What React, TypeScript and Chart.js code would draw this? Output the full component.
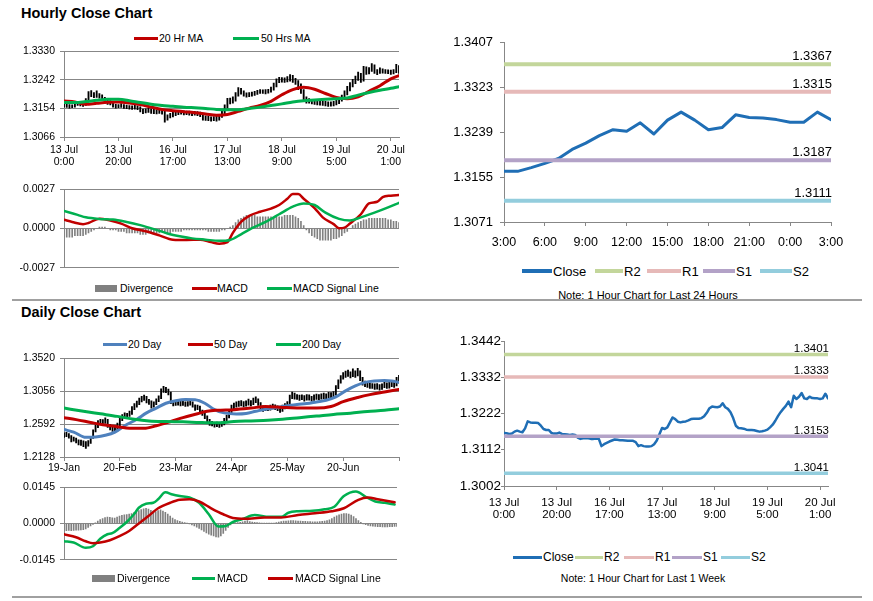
import React, { useEffect, useRef } from 'react';
import { Chart, registerables } from 'chart.js';
Chart.register(...registerables);

// ---------------- Hourly (last week) ----------------
const weekTickLabels = [['13 Jul', '0:00'], ['13 Jul', '20:00'], ['16 Jul', '17:00'], ['17 Jul', '13:00'], ['18 Jul', '9:00'], ['19 Jul', '5:00'], ['20 Jul', '1:00']];
const hourClose = [
  1.3163, 1.3162, 1.3160, 1.3161, 1.3167, 1.3170, 1.3167, 1.3165, 1.3177, 1.3198,
  1.3195, 1.3194, 1.3194, 1.3193, 1.3185, 1.3175, 1.3172, 1.3172, 1.3163, 1.3161,
  1.3161, 1.3164, 1.3160, 1.3159, 1.3158, 1.3157, 1.3158, 1.3157, 1.3149, 1.3145,
  1.3147, 1.3148, 1.3147, 1.3145, 1.3145, 1.3146, 1.3145, 1.3123, 1.3129, 1.3133,
  1.3137, 1.3140, 1.3143, 1.3142, 1.3141, 1.3141, 1.3140, 1.3139, 1.3139, 1.3139,
  1.3135, 1.3123, 1.3126, 1.3123, 1.3122, 1.3122, 1.3123, 1.3129, 1.3140, 1.3159,
  1.3178, 1.3175, 1.3180, 1.3195, 1.3210, 1.3205, 1.3197, 1.3195, 1.3197, 1.3198,
  1.3201, 1.3205, 1.3206, 1.3206, 1.3206, 1.3208, 1.3214, 1.3224, 1.3238, 1.3243,
  1.3242, 1.3241, 1.3243, 1.3253, 1.3241, 1.3236, 1.3226, 1.3208, 1.3185, 1.3178,
  1.3177, 1.3176, 1.3173, 1.3172, 1.3172, 1.3171, 1.3169, 1.3167, 1.3168, 1.3170,
  1.3173, 1.3180, 1.3188, 1.3200, 1.3214, 1.3226, 1.3236, 1.3245, 1.3258, 1.3241,
  1.3276, 1.3266, 1.3273, 1.3284, 1.3268, 1.3266, 1.3273, 1.3269, 1.3268, 1.3268,
  1.3266, 1.3268, 1.3282, 1.3268,
];
const hourHigh = [
  1.3170, 1.3167, 1.3166, 1.3165, 1.3171, 1.3176, 1.3174, 1.3170, 1.3184, 1.3206,
  1.3209, 1.3203, 1.3208, 1.3200, 1.3196, 1.3188, 1.3180, 1.3178, 1.3174, 1.3167,
  1.3166, 1.3169, 1.3166, 1.3164, 1.3163, 1.3162, 1.3164, 1.3162, 1.3159, 1.3152,
  1.3153, 1.3154, 1.3153, 1.3151, 1.3150, 1.3152, 1.3151, 1.3148, 1.3134, 1.3139,
  1.3142, 1.3146, 1.3148, 1.3148, 1.3147, 1.3146, 1.3146, 1.3144, 1.3145, 1.3144,
  1.3143, 1.3138, 1.3131, 1.3130, 1.3128, 1.3129, 1.3130, 1.3135, 1.3146, 1.3165,
  1.3185, 1.3186, 1.3190, 1.3203, 1.3218, 1.3216, 1.3208, 1.3202, 1.3203, 1.3204,
  1.3207, 1.3210, 1.3212, 1.3211, 1.3212, 1.3213, 1.3220, 1.3232, 1.3245, 1.3250,
  1.3249, 1.3248, 1.3252, 1.3258, 1.3256, 1.3247, 1.3240, 1.3230, 1.3212, 1.3190,
  1.3184, 1.3182, 1.3180, 1.3178, 1.3178, 1.3177, 1.3176, 1.3174, 1.3174, 1.3176,
  1.3179, 1.3186, 1.3195, 1.3208, 1.3222, 1.3234, 1.3244, 1.3254, 1.3266, 1.3262,
  1.3284, 1.3282, 1.3280, 1.3292, 1.3288, 1.3274, 1.3279, 1.3276, 1.3274, 1.3273,
  1.3272, 1.3274, 1.3290, 1.3286,
];
const hourLow = [
  1.3158, 1.3157, 1.3155, 1.3156, 1.3158, 1.3163, 1.3162, 1.3160, 1.3163, 1.3175,
  1.3190, 1.3187, 1.3188, 1.3186, 1.3180, 1.3170, 1.3166, 1.3165, 1.3158, 1.3155,
  1.3156, 1.3157, 1.3154, 1.3153, 1.3152, 1.3151, 1.3152, 1.3150, 1.3143, 1.3138,
  1.3140, 1.3142, 1.3139, 1.3138, 1.3137, 1.3139, 1.3136, 1.3112, 1.3118, 1.3125,
  1.3128, 1.3132, 1.3135, 1.3136, 1.3134, 1.3135, 1.3133, 1.3132, 1.3133, 1.3132,
  1.3129, 1.3118, 1.3117, 1.3116, 1.3115, 1.3116, 1.3115, 1.3118, 1.3126, 1.3137,
  1.3155, 1.3168, 1.3170, 1.3176, 1.3192, 1.3198, 1.3192, 1.3189, 1.3190, 1.3192,
  1.3194, 1.3197, 1.3200, 1.3200, 1.3199, 1.3201, 1.3204, 1.3210, 1.3220, 1.3233,
  1.3235, 1.3234, 1.3236, 1.3238, 1.3234, 1.3228, 1.3212, 1.3200, 1.3178, 1.3170,
  1.3170, 1.3168, 1.3166, 1.3165, 1.3164, 1.3163, 1.3162, 1.3160, 1.3161, 1.3162,
  1.3165, 1.3169, 1.3176, 1.3184, 1.3196, 1.3208, 1.3220, 1.3230, 1.3240, 1.3234,
  1.3238, 1.3259, 1.3260, 1.3268, 1.3262, 1.3258, 1.3262, 1.3263, 1.3262, 1.3261,
  1.3259, 1.3260, 1.3264, 1.3262,
];
const hourMaIdx = [0, 4, 8, 12, 16, 20, 24, 28, 32, 36, 40, 44, 48, 52, 56, 60, 64, 68, 72, 76, 80, 84, 88, 92, 96, 100, 104, 108, 112, 116, 120, 123];
const hourMa20 = [1.3177, 1.3174, 1.3167, 1.3170, 1.3173, 1.3174, 1.3171, 1.3166, 1.3158, 1.3151, 1.3147, 1.3144, 1.3141, 1.3137, 1.3133, 1.3135, 1.3145, 1.3155, 1.3163, 1.3176, 1.3196, 1.3212, 1.3219, 1.3213, 1.3200, 1.3188, 1.3184, 1.3190, 1.3207, 1.3224, 1.3245, 1.3255];
const hourMa50 = [1.3172, 1.3172, 1.3175, 1.3179, 1.3182, 1.3182, 1.3178, 1.3172, 1.3167, 1.3163, 1.3161, 1.3158, 1.3156, 1.3154, 1.3151, 1.3150, 1.3150, 1.3154, 1.3158, 1.3163, 1.3168, 1.3174, 1.3178, 1.3180, 1.3182, 1.3184, 1.3186, 1.3195, 1.3203, 1.3210, 1.3216, 1.3221];
const hourMacdIdx = [0, 3, 7, 9, 13, 17, 21, 25, 30, 35, 40, 45, 50, 54, 57, 60, 62, 65, 68, 72, 76, 79, 82, 84, 86, 88, 92, 95, 99, 101, 103, 105, 109, 112, 115, 117, 120, 123];
const hourMacd = [0.0006, 0.00045, 0.0003, 0.00038, 0.00068, 0.00055, 0.00034, 0.00002, -0.00019, -0.00047, -0.00077, -0.00079, -0.00077, -0.00094, -0.00105, -0.00094, -0.0003, 0.00045, 0.00087, 0.00115, 0.00137, 0.00162, 0.00205, 0.00237, 0.00237, 0.00205, 0.00141, 0.00077, 0.0003, 0.00002, 0.00006, 0.00034, 0.00098, 0.00173, 0.00184, 0.00216, 0.00226, 0.0023];
const hourSignalIdx = [0, 5, 8, 13, 18, 23, 28, 33, 38, 43, 47, 52, 57, 61, 65, 69, 74, 79, 84, 88, 92, 96, 101, 105, 109, 114, 119, 123];
const hourSignal = [0.0012, 0.00094, 0.00077, 0.00066, 0.00062, 0.00045, 0.00023, -0.00004, -0.00034, -0.00055, -0.00068, -0.00077, -0.00085, -0.00079, -0.0004, 0.00002, 0.00045, 0.00098, 0.00151, 0.00173, 0.00162, 0.00109, 0.00066, 0.00055, 0.00077, 0.00109, 0.00145, 0.00177];
const hourDivergence = [
  -0.0006, -0.0006, -0.0006, -0.0006, -0.0005, -0.0005, -0.0005, -0.0005, -0.0004, -0.0003,
  -0.0002, -0.0001, 0.0000, 0.0001, 0.0001, 0.0001, 0.0000, -0.0001, -0.0001, -0.0001,
  -0.0002, -0.0002, -0.0002, -0.0003, -0.0003, -0.0003, -0.0003, -0.0003, -0.0004, -0.0004,
  -0.0004, -0.0003, -0.0003, -0.0003, -0.0003, -0.0003, -0.0002, -0.0003, -0.0003, -0.0003,
  -0.0002, -0.0002, -0.0002, -0.0002, -0.0001, -0.0001, -0.0001, -0.0001, -0.0001, -0.0001,
  -0.0001, -0.0001, -0.0001, -0.0002, -0.0002, -0.0002, -0.0002, -0.0002, -0.0001, -0.0001,
  0.0000, 0.0001, 0.0002, 0.0004, 0.0006, 0.0007, 0.0008, 0.0009, 0.0009, 0.0009,
  0.0009, 0.0008, 0.0008, 0.0008, 0.0008, 0.0008, 0.0008, 0.0007, 0.0008, 0.0008,
  0.0008, 0.0009, 0.0009, 0.0009, 0.0009, 0.0008, 0.0007, 0.0005, 0.0002, -0.0001,
  -0.0003, -0.0005, -0.0006, -0.0007, -0.0008, -0.0008, -0.0008, -0.0008, -0.0008, -0.0007,
  -0.0007, -0.0006, -0.0005, -0.0003, -0.0002, 0.0000, 0.0002, 0.0003, 0.0004, 0.0005,
  0.0006, 0.0006, 0.0007, 0.0007, 0.0007, 0.0007, 0.0007, 0.0007, 0.0007, 0.0006,
  0.0006, 0.0005, 0.0005, 0.0004,
];
const hourPriceTicks = [1.3066, 1.3154, 1.3242, 1.3330];
const hourMacdTicks = [-0.0027, 0, 0.0027];

// ---------------- Last 24 hours ----------------
const dayHourLabels = ['3:00', '6:00', '9:00', '12:00', '15:00', '18:00', '21:00', '0:00', '3:00'];
const close24 = [1.3166, 1.3166, 1.3173, 1.3181, 1.3190, 1.3207, 1.3219, 1.3233, 1.3244, 1.3241, 1.3257, 1.3236, 1.3262, 1.3277, 1.3262, 1.3244, 1.3248, 1.3272, 1.3267, 1.3266, 1.3263, 1.3258, 1.3258, 1.3277, 1.3263];
const levelNames = ['R2', 'R1', 'S1', 'S2'];
const levels24 = [1.3367, 1.3315, 1.3187, 1.3111];
const levelsWeek = [1.3401, 1.3333, 1.3153, 1.3041];
const ticks24 = [1.3071, 1.3155, 1.3239, 1.3323, 1.3407];
const ticksWeek = [1.3002, 1.3112, 1.3222, 1.3332, 1.3442];

// ---------------- Daily ----------------
const dailyTickLabels = ['19-Jan', '20-Feb', '23-Mar', '24-Apr', '25-May', '20-Jun', ''];
const dailyHigh = [
  1.2470, 1.2475, 1.2460, 1.2430, 1.2410, 1.2395, 1.2370, 1.2365, 1.2355, 1.2345,
  1.2360, 1.2420, 1.2510, 1.2580, 1.2640, 1.2660, 1.2655, 1.2680, 1.2660, 1.2590,
  1.2560, 1.2545, 1.2605, 1.2675, 1.2725, 1.2750, 1.2745, 1.2775, 1.2840, 1.2880,
  1.2915, 1.2960, 1.2985, 1.3000, 1.2985, 1.2940, 1.2920, 1.2905, 1.2950, 1.2990,
  1.3090, 1.3125, 1.3110, 1.3085, 1.3045, 1.2925, 1.2925, 1.2920, 1.2915, 1.2925,
  1.2905, 1.2910, 1.2925, 1.2905, 1.2865, 1.2860, 1.2845, 1.2790, 1.2750, 1.2710,
  1.2660, 1.2630, 1.2615, 1.2620, 1.2610, 1.2625, 1.2675, 1.2720, 1.2790, 1.2860,
  1.2890, 1.2905, 1.2915, 1.2925, 1.2910, 1.2920, 1.2945, 1.2925, 1.2960, 1.2975,
  1.2950, 1.2895, 1.2850, 1.2850, 1.2845, 1.2860, 1.2875, 1.2865, 1.2850, 1.2830,
  1.2860, 1.2880, 1.2910, 1.3000, 1.3045, 1.3030, 1.3010, 1.3000, 1.3005, 1.2995,
  1.3010, 1.3005, 1.2985, 1.3005, 1.3015, 1.3010, 1.3020, 1.3030, 1.3020, 1.3040,
  1.3035, 1.3050, 1.3135, 1.3215, 1.3275, 1.3320, 1.3340, 1.3355, 1.3330, 1.3370,
  1.3345, 1.3380, 1.3345, 1.3250, 1.3200, 1.3185, 1.3170, 1.3165, 1.3160, 1.3165,
  1.3150, 1.3160, 1.3185, 1.3175, 1.3185, 1.3200, 1.3190, 1.3250, 1.3280,
];
const dailyLow = [
  1.2405, 1.2415, 1.2395, 1.2340, 1.2350, 1.2325, 1.2300, 1.2290, 1.2275, 1.2250,
  1.2280, 1.2320, 1.2390, 1.2480, 1.2540, 1.2580, 1.2575, 1.2600, 1.2545, 1.2510,
  1.2490, 1.2480, 1.2495, 1.2570, 1.2640, 1.2680, 1.2685, 1.2700, 1.2730, 1.2795,
  1.2830, 1.2865, 1.2905, 1.2925, 1.2890, 1.2870, 1.2815, 1.2830, 1.2865, 1.2910,
  1.2950, 1.3040, 1.3035, 1.3005, 1.2880, 1.2850, 1.2855, 1.2860, 1.2850, 1.2855,
  1.2840, 1.2845, 1.2860, 1.2830, 1.2785, 1.2795, 1.2755, 1.2715, 1.2670, 1.2620,
  1.2575, 1.2565, 1.2550, 1.2555, 1.2545, 1.2560, 1.2580, 1.2630, 1.2680, 1.2745,
  1.2810, 1.2830, 1.2840, 1.2850, 1.2835, 1.2845, 1.2860, 1.2850, 1.2865, 1.2895,
  1.2855, 1.2805, 1.2770, 1.2780, 1.2780, 1.2790, 1.2805, 1.2795, 1.2780, 1.2755,
  1.2770, 1.2805, 1.2825, 1.2865, 1.2950, 1.2945, 1.2940, 1.2925, 1.2935, 1.2915,
  1.2930, 1.2930, 1.2915, 1.2925, 1.2940, 1.2935, 1.2945, 1.2950, 1.2945, 1.2960,
  1.2960, 1.2970, 1.3000, 1.3090, 1.3170, 1.3225, 1.3250, 1.3265, 1.3245, 1.3260,
  1.3250, 1.3270, 1.3205, 1.3140, 1.3120, 1.3110, 1.3095, 1.3095, 1.3080, 1.3085,
  1.3070, 1.3080, 1.3105, 1.3095, 1.3100, 1.3120, 1.3110, 1.3130, 1.3190,
];
const daily20Idx = [0, 4, 9, 13, 17, 21, 25, 30, 34, 38, 42, 46, 50, 54, 58, 62, 66, 71, 75, 79, 84, 88, 92, 96, 100, 104, 108, 112, 116, 120, 124, 128, 132, 135, 138];
const daily20 = [1.2515, 1.2479, 1.2405, 1.2411, 1.2434, 1.2479, 1.2569, 1.2660, 1.2750, 1.2818, 1.2886, 1.2922, 1.2940, 1.2935, 1.2886, 1.2796, 1.2750, 1.2735, 1.2742, 1.2773, 1.2809, 1.2827, 1.2850, 1.2870, 1.2882, 1.2905, 1.2928, 1.2975, 1.3060, 1.3130, 1.3180, 1.3200, 1.3206, 1.3200, 1.3180];
const daily50Idx = [0, 5, 11, 16, 22, 27, 33, 38, 44, 49, 55, 59, 63, 70, 77, 83, 90, 97, 104, 110, 115, 121, 126, 132, 138];
const daily50 = [1.2683, 1.2655, 1.2615, 1.2583, 1.2556, 1.2533, 1.2533, 1.2569, 1.2628, 1.2683, 1.2737, 1.2773, 1.2787, 1.2796, 1.2818, 1.2841, 1.2827, 1.2818, 1.2818, 1.2841, 1.2909, 1.2968, 1.3008, 1.3045, 1.3081];
const daily200Idx = [0, 8, 15, 22, 29, 35, 42, 49, 56, 63, 70, 77, 84, 90, 97, 104, 111, 118, 125, 132, 138];
const daily200 = [1.2818, 1.2773, 1.2737, 1.2701, 1.2660, 1.2637, 1.2628, 1.2624, 1.2615, 1.2610, 1.2628, 1.2637, 1.2646, 1.2660, 1.2683, 1.2705, 1.2728, 1.2746, 1.2769, 1.2787, 1.2809];
const dailyMacdIdx = [0, 4, 9, 12, 15, 18, 20, 23, 26, 29, 31, 34, 37, 39, 42, 45, 48, 52, 56, 60, 64, 67, 70, 74, 79, 85, 90, 93, 97, 103, 108, 112, 116, 121, 125, 129, 133, 137];
const dailyMacd = [-0.0071, -0.0076, -0.0097, -0.0091, -0.0061, -0.0043, -0.0039, -0.0018, 0.0006, 0.0037, 0.0063, 0.0079, 0.0083, 0.0097, 0.0125, 0.0116, 0.0110, 0.0104, 0.0083, 0.0037, -0.0012, -0.0010, 0.0006, 0.0018, 0.0034, 0.0027, 0.0027, 0.0043, 0.0049, 0.0051, 0.0057, 0.0067, 0.0110, 0.0128, 0.0107, 0.0088, 0.0083, 0.0076];
const dailySignalIdx = [0, 5, 9, 12, 15, 19, 23, 27, 31, 35, 39, 44, 48, 52, 56, 61, 66, 70, 75, 83, 90, 97, 104, 111, 116, 122, 126, 130, 137];
const dailySignal = [-0.0043, -0.0055, -0.0071, -0.0079, -0.0076, -0.0067, -0.0051, -0.0030, 0.0000, 0.0030, 0.0061, 0.0083, 0.0095, 0.0097, 0.0088, 0.0061, 0.0037, 0.0022, 0.0019, 0.0024, 0.0024, 0.0034, 0.0041, 0.0049, 0.0061, 0.0095, 0.0104, 0.0097, 0.0085];
const dailyDivergence = [
  -0.0028, -0.0029, -0.0028, -0.0029, -0.0028, -0.0027, -0.0027, -0.0026, -0.0025, -0.0022,
  -0.0016, -0.0010, -0.0004, 0.0003, 0.0010, 0.0016, 0.0020, 0.0024, 0.0026, 0.0025,
  0.0023, 0.0022, 0.0026, 0.0030, 0.0033, 0.0035, 0.0036, 0.0038, 0.0040, 0.0044,
  0.0048, 0.0052, 0.0056, 0.0059, 0.0061, 0.0058, 0.0053, 0.0050, 0.0048, 0.0052,
  0.0055, 0.0050, 0.0045, 0.0038, 0.0030, 0.0022, 0.0016, 0.0012, 0.0009, 0.0006,
  0.0004, 0.0002, -0.0002, -0.0006, -0.0010, -0.0015, -0.0020, -0.0026, -0.0032, -0.0038,
  -0.0043, -0.0047, -0.0050, -0.0054, -0.0055, -0.0050, -0.0040, -0.0028, -0.0016, -0.0006,
  0.0000, 0.0003, 0.0004, 0.0005, 0.0007, 0.0010, 0.0012, 0.0008, 0.0006, 0.0005,
  0.0004, 0.0003, 0.0002, 0.0002, 0.0001, 0.0001, 0.0001, 0.0002, 0.0004, 0.0006,
  0.0008, 0.0010, 0.0010, 0.0011, 0.0012, 0.0012, 0.0011, 0.0010, 0.0010, 0.0009,
  0.0009, 0.0008, 0.0008, 0.0007, 0.0007, 0.0007, 0.0008, 0.0009, 0.0010, 0.0012,
  0.0015, 0.0020, 0.0026, 0.0031, 0.0035, 0.0038, 0.0040, 0.0040, 0.0038, 0.0034,
  0.0028, 0.0020, 0.0012, 0.0005, -0.0001, -0.0005, -0.0008, -0.0010, -0.0011, -0.0012,
  -0.0013, -0.0013, -0.0014, -0.0014, -0.0014, -0.0013, -0.0013, -0.0012, -0.0012,
];
const dailyPriceTicks = [1.2128, 1.2592, 1.3056, 1.3520];
const dailyMacdTicks = [-0.0145, 0, 0.0145];

// ---------------- styling ----------------
const COL = {
  red: '#c00000', green: '#00b050', blue20: '#4f81bd', close: '#1f6eb5',
  r2: '#c3d69b', r1: '#e6b9b8', s1: '#b3a2c7', s2: '#93cddd',
  div: '#808080', grid: '#878787', candle: '#000000', sep: '#a0a0a0',
};
const levelColors = [COL.r2, COL.r1, COL.s1, COL.s2];
const LFAM = "'Liberation Sans', Arial, sans-serif";
let narrowCache: boolean | null = null;
function isNarrow(): boolean {
  if (narrowCache !== null) return narrowCache;
  try {
    const ctx = document.createElement('canvas').getContext('2d')!;
    ctx.font = "40px 'Liberation Sans Narrow', monospace";
    const a = ctx.measureText('1.3407 Close').width;
    ctx.font = '40px monospace';
    const b = ctx.measureText('1.3407 Close').width;
    narrowCache = Math.abs(a - b) > 1;
  } catch (e) {
    narrowCache = false;
  }
  return narrowCache;
}
function rFamily() { return isNarrow() ? "'Liberation Sans Narrow', 'Arial Narrow', sans-serif" : LFAM; }
function rSize(s: number) { return isNarrow() ? Math.round(s * 1.2 * 2) / 2 : s; }
function rFont(s: number, extra: any = {}) { return { family: rFamily(), size: rSize(s), ...extra }; }
const lFont = (extra: any = {}) => ({ family: LFAM, size: 10.5, ...extra });

const pts = (xs: number[], ys: number[]) => xs.map((x, i) => ({ x, y: ys[i] }));

function yAxis(o: { ticks: number[]; width: number; font: any; tickLen: number; pad: number; grid: boolean }) {
  return {
    type: 'linear', position: 'left',
    min: o.ticks[0], max: o.ticks[o.ticks.length - 1],
    afterBuildTicks: (s: any) => { s.ticks = o.ticks.map((v) => ({ value: v })); },
    afterFit: (s: any) => { s.width = o.width; },
    grid: { display: true, drawOnChartArea: o.grid, drawTicks: true, tickLength: o.tickLen, color: COL.grid, lineWidth: 1 },
    border: { display: true, color: COL.grid, width: 1 },
    ticks: { font: o.font, color: '#000', padding: o.pad, callback: (v: any) => Number(v).toFixed(4) },
  };
}
function xAxis(o: { max: number; positions: number[]; labels: any[]; height: number; font: any; pad: number; display?: boolean }) {
  return {
    type: 'linear', min: 0, max: o.max, offset: false, display: o.display === undefined ? true : o.display,
    afterBuildTicks: (s: any) => { s.ticks = o.positions.map((v) => ({ value: v })); },
    afterFit: (s: any) => { s.height = o.height; },
    grid: { display: true, drawOnChartArea: false, drawTicks: true, tickLength: 4, color: COL.grid, offset: false },
    border: { display: true, color: COL.grid, width: 1 },
    ticks: { autoSkip: false, maxRotation: 0, minRotation: 0, font: o.font, color: '#000', padding: o.pad, callback: (_v: any, i: number) => o.labels[i] },
  };
}
function base(pad: any) {
  return {
    responsive: false, maintainAspectRatio: false, animation: false, events: [],
    layout: { padding: pad },
    plugins: { legend: { display: false }, tooltip: { enabled: false }, title: { display: false } },
  };
}
const lineDs = (label: string, data: any[], color: string, width: number, order: number, smooth = true) => ({
  type: 'line', label, data, borderColor: color, backgroundColor: color, borderWidth: width, pointRadius: 0,
  fill: false, order, cubicInterpolationMode: smooth ? 'monotone' : 'default', tension: 0,
  borderJoinStyle: 'round', borderCapStyle: 'round',
});
function levelLabelPlugin(values: number[], size: number, dy: number) {
  return {
    id: 'levelLabels',
    afterDatasetsDraw(chart: any) {
      const { ctx, chartArea, scales } = chart;
      ctx.save();
      ctx.font = `${rSize(size)}px ${rFamily()}`;
      ctx.fillStyle = '#000';
      ctx.textAlign = 'right';
      ctx.textBaseline = 'alphabetic';
      values.forEach((v) => {
        const y = scales.y.getPixelForValue(v);
        ctx.fillText(v.toFixed(4), chartArea.right + 1, y - dy);
      });
      ctx.restore();
    },
  };
}

// ---------------- chart builders ----------------
const hourTickPos = weekTickLabels.map((_, i) => i * 20);
const dailyTickPos = dailyTickLabels.map((_, i) => i * 23);
const dayTickPos = dayHourLabels.map((_, i) => i * 3);
const hourMax = hourClose.length - 1;
const dailyMax = dailyHigh.length - 1;

const makeHourPrice = () => ({
  type: 'bar',
  data: {
    datasets: [
      lineDs('50 Hrs MA', pts(hourMaIdx, hourMa50), COL.green, 3, 1),
      lineDs('20 Hr MA', pts(hourMaIdx, hourMa20), COL.red, 3, 2),
      { type: 'bar', label: 'Price', data: hourLow.map((l, i) => ({ x: i, y: [l, hourHigh[i]] })), backgroundColor: COL.candle, borderWidth: 0, barThickness: 1.2, order: 3 },
    ],
  },
  options: {
    ...base({ top: 7, right: 21, bottom: 0, left: 0 }),
    scales: {
      x: xAxis({ max: hourMax, positions: hourTickPos, labels: weekTickLabels, height: 32, font: lFont({ lineHeight: '12px' }), pad: 3 }),
      y: yAxis({ ticks: hourPriceTicks, width: 64, font: lFont(), tickLen: 4, pad: 5, grid: true }),
    },
  },
});
const makeHourMacd = () => ({
  type: 'bar',
  data: {
    datasets: [
      lineDs('MACD Signal Line', pts(hourSignalIdx, hourSignal), COL.green, 2.5, 1),
      lineDs('MACD', pts(hourMacdIdx, hourMacd), COL.red, 2.5, 2),
      { type: 'bar', label: 'Divergence', data: hourDivergence.map((v, i) => ({ x: i, y: v })), backgroundColor: COL.div, borderWidth: 0, barThickness: 1, order: 3 },
    ],
  },
  options: {
    ...base({ top: 8, right: 21, bottom: 8, left: 0 }),
    scales: {
      x: xAxis({ max: hourMax, positions: hourTickPos, labels: weekTickLabels, height: 0, font: lFont(), pad: 0, display: false }),
      y: yAxis({ ticks: hourMacdTicks, width: 64, font: lFont(), tickLen: 4, pad: 5, grid: true }),
    },
  },
});
const make24 = () => ({
  type: 'line',
  data: {
    datasets: [
      ...levels24.map((v, i) => lineDs(levelNames[i], [{ x: 0, y: v }, { x: close24.length - 1, y: v }], levelColors[i], 4, 1 + i, false)),
      lineDs('Close', pts(close24.map((_, i) => i), close24), COL.close, 3, 9, false),
    ],
  },
  options: {
    ...base({ top: 10, right: 42, bottom: 0, left: 0 }),
    scales: {
      x: xAxis({ max: close24.length - 1, positions: dayTickPos, labels: dayHourLabels, height: 30, font: rFont(12.5, { lineHeight: '14px' }), pad: 10 }),
      y: yAxis({ ticks: ticks24, width: 74, font: rFont(13), tickLen: 4, pad: 7, grid: false }),
    },
  },
  plugins: [levelLabelPlugin(levels24, 13, 4)],
});
const makeWeek = () => ({
  type: 'line',
  data: {
    datasets: [
      ...levelsWeek.map((v, i) => lineDs(levelNames[i], [{ x: 0, y: v }, { x: hourMax, y: v }], levelColors[i], 3.5, 1 + i, false)),
      lineDs('Close', pts(hourClose.map((_, i) => i), hourClose), COL.close, 2.5, 9, false),
    ],
  },
  options: {
    ...base({ top: 10, right: 45, bottom: 0, left: 0 }),
    scales: {
      x: xAxis({ max: hourMax, positions: hourTickPos, labels: weekTickLabels, height: 36, font: rFont(11.5, { lineHeight: '12px' }), pad: 7 }),
      y: yAxis({ ticks: ticksWeek, width: 74, font: rFont(13.5), tickLen: 3, pad: 0, grid: false }),
    },
  },
  plugins: [levelLabelPlugin(levelsWeek, 11.5, 2.5)],
});
const makeDailyPrice = () => ({
  type: 'bar',
  data: {
    datasets: [
      lineDs('200 Day', pts(daily200Idx, daily200), COL.green, 3, 1),
      lineDs('50 Day', pts(daily50Idx, daily50), COL.red, 3, 2),
      lineDs('20 Day', pts(daily20Idx, daily20), COL.blue20, 3, 3),
      { type: 'bar', label: 'Price', data: dailyLow.map((l, i) => ({ x: i, y: [l, dailyHigh[i]] })), backgroundColor: COL.candle, borderWidth: 0, barThickness: 1.2, order: 4 },
    ],
  },
  options: {
    ...base({ top: 8, right: 21, bottom: 0, left: 0 }),
    scales: {
      x: xAxis({ max: dailyMax, positions: dailyTickPos, labels: dailyTickLabels, height: 20, font: lFont({ lineHeight: '12px' }), pad: 1 }),
      y: yAxis({ ticks: dailyPriceTicks, width: 64, font: lFont(), tickLen: 4, pad: 5, grid: true }),
    },
  },
});
const makeDailyMacd = () => ({
  type: 'bar',
  data: {
    datasets: [
      lineDs('MACD Signal Line', pts(dailySignalIdx, dailySignal), COL.red, 2.5, 1),
      lineDs('MACD', pts(dailyMacdIdx, dailyMacd), COL.green, 2.5, 2),
      { type: 'bar', label: 'Divergence', data: dailyDivergence.map((v, i) => ({ x: i, y: v })), backgroundColor: COL.div, borderWidth: 0, barThickness: 1, order: 3 },
    ],
  },
  options: {
    ...base({ top: 8, right: 23, bottom: 8, left: 0 }),
    scales: {
      x: xAxis({ max: dailyMax, positions: dailyTickPos, labels: dailyTickLabels, height: 0, font: lFont(), pad: 0, display: false }),
      y: yAxis({ ticks: dailyMacdTicks, width: 64, font: lFont(), tickLen: 4, pad: 5, grid: true }),
    },
  },
});

// ---------------- components ----------------
function ChartBox({ left, top, width, height, make }: any) {
  const ref = useRef<HTMLCanvasElement | null>(null);
  useEffect(() => {
    if (!ref.current) return;
    const chart = new Chart(ref.current, make());
    return () => chart.destroy();
  }, []);
  return <canvas ref={ref} width={width} height={height} style={{ position: 'absolute', left, top, width, height }} />;
}
function Txt({ x, y, size, family, bold, center, children }: any) {
  const style: any = {
    position: 'absolute', top: y - size * 0.5, left: x, fontSize: size, lineHeight: `${size}px`,
    fontFamily: family || LFAM, fontWeight: bold ? 'bold' : 'normal', whiteSpace: 'nowrap', color: '#000',
  };
  if (center) style.transform = 'translateX(-50%)';
  return <div style={style}>{children}</div>;
}
function LegendRow({ y, items, size, family, thick }: any) {
  return (
    <>
      {items.map((it: any, i: number) => {
        const h = it.box ? 7 : thick;
        return (
          <React.Fragment key={i}>
            <div style={{ position: 'absolute', left: it.x1, top: y - h / 2, width: it.x2 - it.x1, height: h, background: it.color }} />
            <Txt x={it.tx} y={y} size={size} family={family}>{it.label}</Txt>
          </React.Fragment>
        );
      })}
    </>
  );
}

export default function App() {
  const rf = rFamily();
  return (
    <div style={{ position: 'absolute', left: 0, top: 0, width: 873, height: 601, overflow: 'hidden', background: '#fff', fontFamily: LFAM }}>
      <Txt x={21} y={13.5} size={14.5} bold>Hourly Close Chart</Txt>
      <Txt x={21} y={312.5} size={14.5} bold>Daily Close Chart</Txt>

      <LegendRow y={38} size={10.5} thick={3} items={[
        { x1: 134, x2: 158, color: COL.red, tx: 159, label: '20 Hr MA' },
        { x1: 233, x2: 259, color: COL.green, tx: 261, label: '50 Hrs MA' },
      ]} />
      <ChartBox left={0} top={40} width={420} height={129} make={makeHourPrice} />
      <ChartBox left={0} top={178} width={420} height={101} make={makeHourMacd} />
      <LegendRow y={288.5} size={10.5} thick={3} items={[
        { box: true, x1: 95, x2: 117, color: COL.div, tx: 120, label: 'Divergence' },
        { x1: 192, x2: 217, color: COL.red, tx: 217, label: 'MACD' },
        { x1: 267, x2: 292, color: COL.green, tx: 293, label: 'MACD Signal Line' },
      ]} />

      <ChartBox left={430} top={28} width={443} height={224} make={make24} />
      <LegendRow y={271} size={rSize(13)} family={rf} thick={3.5} items={[
        { x1: 522, x2: 552, color: COL.close, tx: 553, label: 'Close' },
        { x1: 595, x2: 623, color: COL.r2, tx: 624, label: 'R2' },
        { x1: 647, x2: 681, color: COL.r1, tx: 682, label: 'R1' },
        { x1: 703, x2: 735, color: COL.s1, tx: 736, label: 'S1' },
        { x1: 760, x2: 792, color: COL.s2, tx: 793, label: 'S2' },
      ]} />
      <Txt x={648} y={295} size={11} center>Note: 1 Hour Chart for Last 24 Hours</Txt>

      <div style={{ position: 'absolute', left: 12, top: 299, width: 850, height: 1.5, background: COL.sep }} />

      <LegendRow y={344} size={10.5} thick={3} items={[
        { x1: 103, x2: 127, color: COL.blue20, tx: 128, label: '20 Day' },
        { x1: 188, x2: 213, color: COL.red, tx: 214, label: '50 Day' },
        { x1: 276, x2: 301, color: COL.green, tx: 302, label: '200 Day' },
      ]} />
      <ChartBox left={0} top={347} width={420} height={130} make={makeDailyPrice} />
      <ChartBox left={0} top={476} width={420} height={95} make={makeDailyMacd} />
      <LegendRow y={578} size={10.5} thick={3} items={[
        { box: true, x1: 92, x2: 115, color: COL.div, tx: 117, label: 'Divergence' },
        { x1: 192, x2: 215, color: COL.green, tx: 217, label: 'MACD' },
        { x1: 268, x2: 293, color: COL.red, tx: 295, label: 'MACD Signal Line' },
      ]} />

      <ChartBox left={430} top={331} width={443} height={191} make={makeWeek} />
      <LegendRow y={557} size={rSize(12)} family={rf} thick={3} items={[
        { x1: 513, x2: 542, color: COL.close, tx: 543, label: 'Close' },
        { x1: 575, x2: 603, color: COL.r2, tx: 604, label: 'R2' },
        { x1: 624, x2: 654, color: COL.r1, tx: 655, label: 'R1' },
        { x1: 672, x2: 702, color: COL.s1, tx: 703, label: 'S1' },
        { x1: 721, x2: 750, color: COL.s2, tx: 751, label: 'S2' },
      ]} />
      <Txt x={643} y={578} size={10.5} center>Note: 1 Hour Chart for  Last 1 Week</Txt>

      <div style={{ position: 'absolute', left: 12, top: 596, width: 850, height: 1.5, background: COL.sep }} />
    </div>
  );
}
